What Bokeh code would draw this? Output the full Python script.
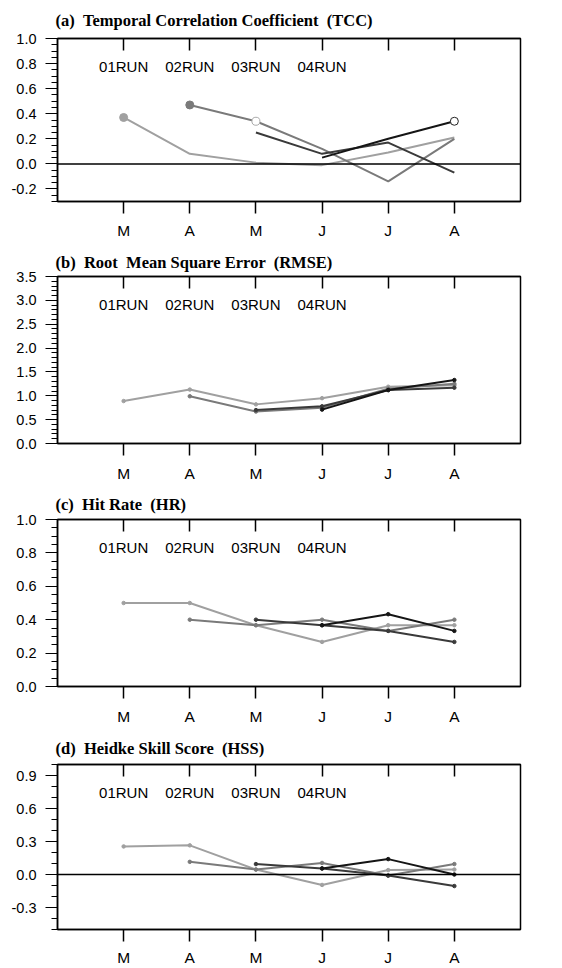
import numpy as np
from bokeh.plotting import figure
from bokeh.layouts import column
from bokeh.models import FixedTicker, LinearAxis, Span, Range1d, NumeralTickFormatter
from bokeh.core.properties import value
from bokeh.embed import file_html
from bokeh.resources import INLINE

nan = np.nan

# ---- data ----
months = ["M", "A", "M", "J", "J", "A"]
month_pos = [1, 2, 3, 4, 5, 6]
runs = ["01RUN", "02RUN", "03RUN", "04RUN"]

tcc_01 = [0.37, 0.08, 0.01, -0.01, 0.09, 0.21]
tcc_02 = [nan, 0.47, 0.34, 0.12, -0.14, 0.20]
tcc_03 = [nan, nan, 0.25, 0.08, 0.17, -0.07]
tcc_04 = [nan, nan, nan, 0.05, 0.20, 0.34]

# marker flags for TCC ("f" filled dot, "o" open circle, "" none)
tcc_mark_01 = ["f", "", "", "", "", ""]
tcc_mark_02 = ["", "f", "o", "", "", ""]
tcc_mark_03 = ["", "", "", "", "", ""]
tcc_mark_04 = ["", "", "", "", "", "o"]

rmse_01 = [0.89, 1.13, 0.82, 0.95, 1.19, 1.22]
rmse_02 = [nan, 0.99, 0.67, 0.75, 1.15, 1.25]
rmse_03 = [nan, nan, 0.70, 0.78, 1.12, 1.17]
rmse_04 = [nan, nan, nan, 0.71, 1.12, 1.33]

hr_01 = [0.50, 0.50, 0.367, 0.267, 0.367, 0.367]
hr_02 = [nan, 0.40, 0.367, 0.40, 0.333, 0.40]
hr_03 = [nan, nan, 0.40, 0.367, 0.333, 0.267]
hr_04 = [nan, nan, nan, 0.367, 0.433, 0.333]

hss_01 = [0.255, 0.265, 0.045, -0.095, 0.04, 0.045]
hss_02 = [nan, 0.115, 0.045, 0.105, -0.01, 0.095]
hss_03 = [nan, nan, 0.095, 0.055, -0.01, -0.105]
hss_04 = [nan, nan, nan, 0.055, 0.14, 0.0]

run_colors = ["#a0a0a0", "#7a7a7a", "#3a3a3a", "#151515"]

SANS = "Liberation Sans"
SERIF = "Liberation Serif"
SP2 = " \u00a0"  # visible double space


def make_panel(title, series, yr, major, minor, zero, height, top_b, bot_b,
               label_standoff, title_standoff, vertex=True, marks=None):
    p = figure(width=560, height=height, x_range=Range1d(0, 7),
               y_range=Range1d(*yr), output_backend="svg",
               toolbar_location=None, min_border_left=57, min_border_right=40,
               min_border_top=top_b, min_border_bottom=bot_b)
    p.xgrid.visible = False
    p.ygrid.visible = False
    p.outline_line_color = "black"
    p.outline_line_width = 1.5
    p.background_fill_color = "white"

    # title
    p.title.text = title
    p.title.text_font = SERIF
    p.title.text_font_style = "bold"
    p.title.text_font_size = "16.5px"
    p.title.align = "left"
    p.title.offset = -2
    p.title.standoff = title_standoff
    p.title.text_color = "black"

    # bottom axis
    xa = p.xaxis[0]
    xa.ticker = FixedTicker(ticks=month_pos)
    xa.major_label_overrides = {pos: m for pos, m in zip(month_pos, months)}
    xa.major_tick_out = 12
    xa.major_tick_in = 0
    xa.minor_tick_out = 0
    xa.minor_tick_in = 0
    xa.axis_line_width = 1.5
    xa.major_tick_line_width = 1.5
    xa.major_label_text_font = SANS
    xa.major_label_text_font_size = "15.5px"
    xa.major_label_text_color = "black"
    xa.major_label_standoff = label_standoff

    # top axis: inward ticks only (drawn as minor ticks, so no labels)
    top = LinearAxis(ticker=FixedTicker(ticks=[], minor_ticks=month_pos),
                     major_tick_in=0, major_tick_out=0,
                     minor_tick_in=12, minor_tick_out=0,
                     minor_tick_line_width=1.5,
                     major_label_standoff=0,
                     axis_line_width=1.5)
    p.add_layout(top, "above")

    # left axis
    ya = p.yaxis[0]
    ya.ticker = FixedTicker(ticks=major, minor_ticks=minor)
    ya.formatter = NumeralTickFormatter(format="0.0")
    ya.major_tick_out = 12
    ya.major_tick_in = 0
    ya.minor_tick_out = 6
    ya.minor_tick_in = 0
    ya.axis_line_width = 1.5
    ya.major_tick_line_width = 1.2
    ya.minor_tick_line_width = 1
    ya.major_label_text_font = SANS
    ya.major_label_text_font_size = "14.5px"
    ya.major_label_text_color = "black"
    ya.major_label_standoff = 9

    if zero:
        p.add_layout(Span(location=0, dimension="width", line_color="black",
                          line_width=1.5))

    # run labels
    ylab = yr[1] - 0.17 * (yr[1] - yr[0])
    p.text(x=month_pos[:4], y=[ylab] * 4, text=runs, text_align="center",
           text_baseline="middle", text_font=value(SANS),
           text_font_size="15px", text_color="black")

    for i, vals in enumerate(series):
        p.line(x=month_pos, y=vals, line_color=run_colors[i], line_width=2)
        if vertex:
            p.scatter(x=month_pos, y=vals, size=3.5, color=run_colors[i])

    if marks is not None:
        for i, (vals, mk) in enumerate(zip(series, marks)):
            fx = [x for x, m in zip(month_pos, mk) if m == "f"]
            fy = [v for v, m in zip(vals, mk) if m == "f"]
            ox = [x for x, m in zip(month_pos, mk) if m == "o"]
            oy = [v for v, m in zip(vals, mk) if m == "o"]
            if fx:
                p.scatter(x=fx, y=fy, size=8, color=run_colors[i])
            if ox:
                oc = "#aaaaaa" if i < 2 else "#222222"
                p.scatter(x=ox, y=oy, size=8, fill_color="white",
                          line_color=oc, line_width=1)
    return p


pa = make_panel("(a)" + SP2 + "Temporal Correlation Coefficient" + SP2 + "(TCC)",
                [tcc_01, tcc_02, tcc_03, tcc_04], (-0.3, 1.0),
                [-0.2, 0.0, 0.2, 0.4, 0.6, 0.8, 1.0],
                [round(-0.3 + 0.05 * k, 2) for k in range(27)],
                True, 245, 37, 44, 8, 17, vertex=False,
                marks=[tcc_mark_01, tcc_mark_02, tcc_mark_03, tcc_mark_04])

pb = make_panel("(b)" + SP2 + "Root" + SP2 + "Mean Square Error" + SP2 + "(RMSE)",
                [rmse_01, rmse_02, rmse_03, rmse_04], (0.0, 3.5),
                [0.0, 0.5, 1.0, 1.5, 2.0, 2.5, 3.0, 3.5],
                [round(0.1 * k, 2) for k in range(36)],
                False, 242, 31, 44, 9, 10)

pc = make_panel("(c)" + SP2 + "Hit Rate" + SP2 + "(HR)",
                [hr_01, hr_02, hr_03, hr_04], (0.0, 1.0),
                [0.0, 0.2, 0.4, 0.6, 0.8, 1.0],
                [round(0.05 * k, 2) for k in range(21)],
                False, 243, 32, 44, 9, 11)

pd_ = make_panel("(d)" + SP2 + "Heidke Skill Score" + SP2 + "(HSS)",
                 [hss_01, hss_02, hss_03, hss_04], (-0.5, 1.0),
                 [-0.3, 0.0, 0.3, 0.6, 0.9],
                 [round(-0.5 + 0.1 * k, 2) for k in range(16)],
                 True, 238, 34, 36, 7, 13)

layout = column(pa, pb, pc, pd_, spacing=0)

with open("out.html", "w") as f:
    f.write(file_html(layout, INLINE))
